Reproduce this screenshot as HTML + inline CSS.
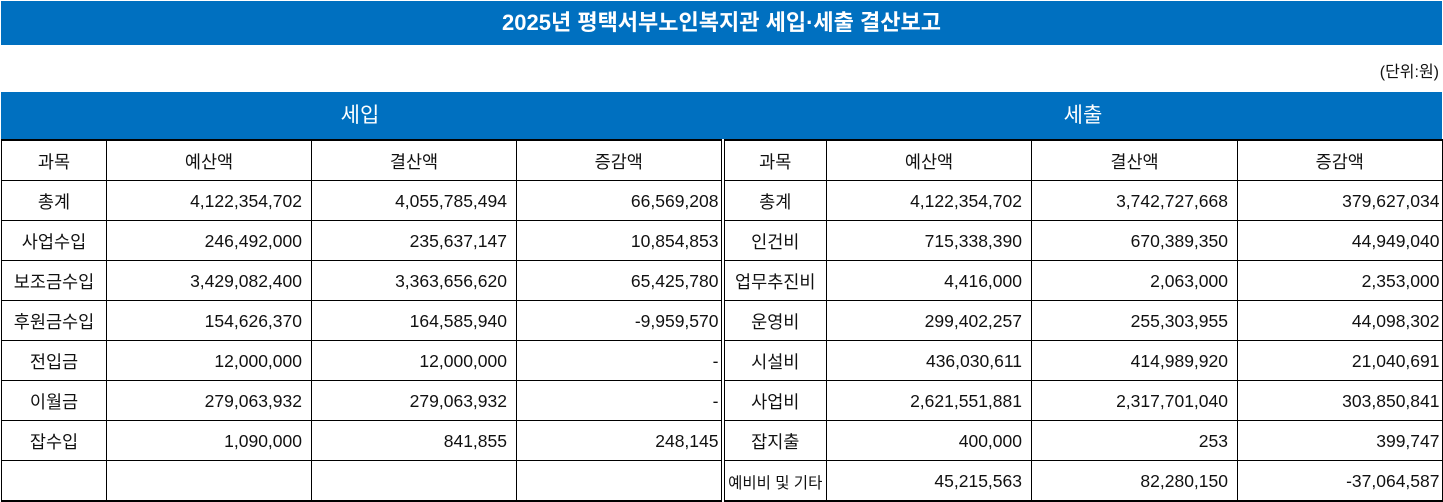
<!DOCTYPE html>
<html><head><meta charset="utf-8"><style>
body{margin:0;width:1443px;height:501px;background:#fff;position:relative;overflow:hidden;font-family:"Liberation Sans","Noto Sans CJK KR",sans-serif;color:#111}
.bar{position:absolute;left:1px;width:1441px;background:#0070c0;color:#fff;text-align:center}
table{position:absolute;left:1px;top:139px;width:1441px;border-collapse:collapse;table-layout:fixed;font-size:17.5px}
td{border:1px solid #000;height:37px;padding:0;padding-top:2px;text-align:center;white-space:nowrap}
td.n{text-align:right;padding-right:9px}
tr:first-child td{border-top:2px solid #000}
tr:last-child td{border-bottom:2px solid #000}
td.d{border-right:4px double #000}
td.r{border-right:2px solid #000}
</style></head><body>
<div class="bar" style="top:1px;height:44px;line-height:44px;font-size:22px;font-weight:bold">2025년 평택서부노인복지관 세입·세출 결산보고</div>
<div style="position:absolute;right:4px;top:58px;font-size:16px">(단위:원)</div>
<div class="bar" style="top:92px;height:47px"></div>
<div style="position:absolute;left:0;width:720px;top:92px;height:47px;line-height:47px;text-align:center;color:#fff;font-size:21px">세입</div>
<div style="position:absolute;left:723px;width:720px;top:92px;height:47px;line-height:47px;text-align:center;color:#fff;font-size:21px">세출</div>
<table>
<colgroup><col style="width:105px"><col style="width:205px"><col style="width:205px"><col style="width:206px"><col style="width:104px"><col style="width:205px"><col style="width:206px"><col style="width:205px"></colgroup>
<tr><td>과목</td><td>예산액</td><td>결산액</td><td class="d">증감액</td><td>과목</td><td>예산액</td><td>결산액</td><td class="r">증감액</td></tr>
<tr><td>총계</td><td class="n">4,122,354,702</td><td class="n">4,055,785,494</td><td class="n d" style="padding-right:2px">66,569,208</td><td>총계</td><td class="n">4,122,354,702</td><td class="n">3,742,727,668</td><td class="n r" style="padding-right:2px">379,627,034</td></tr>
<tr><td>사업수입</td><td class="n">246,492,000</td><td class="n">235,637,147</td><td class="n d" style="padding-right:2px">10,854,853</td><td>인건비</td><td class="n">715,338,390</td><td class="n">670,389,350</td><td class="n r" style="padding-right:2px">44,949,040</td></tr>
<tr><td>보조금수입</td><td class="n">3,429,082,400</td><td class="n">3,363,656,620</td><td class="n d" style="padding-right:2px">65,425,780</td><td>업무추진비</td><td class="n">4,416,000</td><td class="n">2,063,000</td><td class="n r" style="padding-right:2px">2,353,000</td></tr>
<tr><td>후원금수입</td><td class="n">154,626,370</td><td class="n">164,585,940</td><td class="n d" style="padding-right:2px">-9,959,570</td><td>운영비</td><td class="n">299,402,257</td><td class="n">255,303,955</td><td class="n r" style="padding-right:2px">44,098,302</td></tr>
<tr><td>전입금</td><td class="n">12,000,000</td><td class="n">12,000,000</td><td class="n d" style="padding-right:2px">-</td><td>시설비</td><td class="n">436,030,611</td><td class="n">414,989,920</td><td class="n r" style="padding-right:2px">21,040,691</td></tr>
<tr><td>이월금</td><td class="n">279,063,932</td><td class="n">279,063,932</td><td class="n d" style="padding-right:2px">-</td><td>사업비</td><td class="n">2,621,551,881</td><td class="n">2,317,701,040</td><td class="n r" style="padding-right:2px">303,850,841</td></tr>
<tr><td>잡수입</td><td class="n">1,090,000</td><td class="n">841,855</td><td class="n d" style="padding-right:2px">248,145</td><td>잡지출</td><td class="n">400,000</td><td class="n">253</td><td class="n r" style="padding-right:2px">399,747</td></tr>
<tr><td></td><td></td><td></td><td class="d"></td><td style="font-size:15.5px">예비비 및 기타</td><td class="n">45,215,563</td><td class="n">82,280,150</td><td class="n r" style="padding-right:2px">-37,064,587</td></tr>
</table>
</body></html>
